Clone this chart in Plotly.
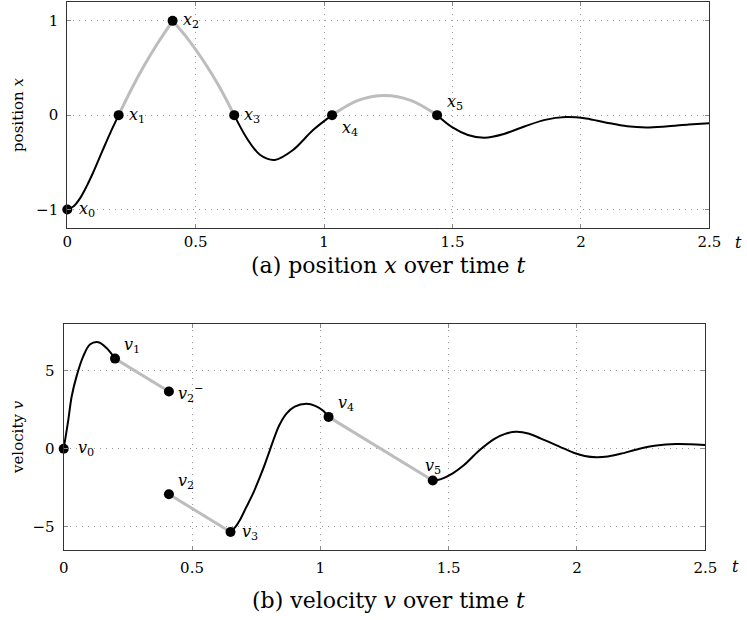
import plotly.graph_objects as go

W, H = 747, 620

# ---------- position x(t) ----------
pos_black_a_t = [0, 0.025, 0.05, 0.076, 0.102, 0.135, 0.167, 0.2]
pos_black_a_x = [-1, -0.966, -0.88, -0.75, -0.6, -0.39, -0.19, 0]
pos_gray_a_t = [0.2, 0.25, 0.3, 0.35, 0.41]
pos_gray_a_x = [0, 0.277, 0.528, 0.754, 1.0]
pos_gray_b_t = [0.41, 0.47, 0.53, 0.59, 0.65]
pos_gray_b_x = [1.0, 0.807, 0.577, 0.311, 0]
pos_black_b_t = [0.65, 0.698, 0.75, 0.808, 0.879, 0.957, 1.031]
pos_black_b_x = [0, -0.24, -0.42, -0.475, -0.37, -0.158, 0]
pos_gray_c_t = [1.031, 1.13, 1.235, 1.34, 1.44]
pos_gray_c_x = [0, 0.154, 0.209, 0.154, 0]
pos_black_c_t = [1.44, 1.5, 1.56, 1.625, 1.7, 1.78, 1.86, 1.94, 2.02, 2.1, 2.18, 2.255, 2.33, 2.42, 2.5]
pos_black_c_x = [0, -0.13, -0.21, -0.24, -0.2, -0.12, -0.05, -0.02, -0.035, -0.08, -0.118, -0.13, -0.12, -0.1, -0.085]
pos_pts_t = [0, 0.2, 0.41, 0.65, 1.031, 1.44]
pos_pts_x = [-1, 0, 1, 0, 0, 0]
pos_labels = ["<i>x</i><sub>0</sub>", "<i>x</i><sub>1</sub>", "<i>x</i><sub>2</sub>",
              "<i>x</i><sub>3</sub>", "<i>x</i><sub>4</sub>", "<i>x</i><sub>5</sub>"]

# ---------- velocity v(t) ----------
vel_black_a_t = [0, 0.018, 0.031, 0.05, 0.076, 0.102, 0.135, 0.167, 0.2]
vel_black_a_v = [0, 1.85, 3.35, 4.64, 5.92, 6.68, 6.83, 6.46, 5.78]
vel_gray_a_t = [0.2, 0.41]
vel_gray_a_v = [5.78, 3.67]
vel_gray_b_t = [0.41, 0.65]
vel_gray_b_v = [-2.92, -5.34]
vel_black_b_t = [0.65, 0.67, 0.686, 0.71, 0.738, 0.76, 0.777, 0.8, 0.816, 0.84, 0.868, 0.9, 0.946, 0.98, 1.01, 1.032]
vel_black_b_v = [-5.34, -5.0, -4.59, -3.8, -2.87, -2.0, -1.3, -0.25, 0.5, 1.5, 2.25, 2.7, 2.88, 2.75, 2.45, 2.04]
vel_gray_c_t = [1.032, 1.438]
vel_gray_c_v = [2.04, -2.04]
vel_black_c_t = [1.438, 1.47, 1.516, 1.56, 1.62, 1.68, 1.72, 1.763, 1.81, 1.86, 1.95, 1.99, 2.03, 2.075, 2.12, 2.17, 2.24, 2.31, 2.385, 2.44, 2.5]
vel_black_c_v = [-2.06, -1.95, -1.58, -1.05, -0.1, 0.65, 0.95, 1.08, 0.98, 0.65, 0.0, -0.28, -0.47, -0.55, -0.5, -0.33, -0.02, 0.2, 0.3, 0.29, 0.24]
vel_pts_t = [0, 0.2, 0.41, 0.41, 0.65, 1.032, 1.438]
vel_pts_v = [0, 5.78, 3.67, -2.92, -5.34, 2.04, -2.04]
vel_labels = ["<i>v</i><sub>0</sub>", "<i>v</i><sub>1</sub>", "<i>v</i><sub>2</sub><sup>−</sup>",
              "<i>v</i><sub>2</sub>", "<i>v</i><sub>3</sub>", "<i>v</i><sub>4</sub>", "<i>v</i><sub>5</sub>"]

x_ticks = [0, 0.5, 1, 1.5, 2, 2.5]
x_tick_text = ["0", "0.5", "1", "1.5", "2", "2.5"]
pos_ticks = [-1, 0, 1]
vel_ticks = [-5, 0, 5]

BLACK = "#000000"
GRAY = "#bdbdbd"
FONT = "DejaVu Serif"

fig = go.Figure()

def seg(t, y, color, width, xa, ya):
    fig.add_trace(go.Scatter(x=t, y=y, mode="lines",
                             line=dict(color=color, width=width, shape="spline", smoothing=0.9),
                             xaxis=xa, yaxis=ya, showlegend=False, hoverinfo="skip"))

# top
seg(pos_gray_a_t, pos_gray_a_x, GRAY, 3, "x", "y")
seg(pos_gray_b_t, pos_gray_b_x, GRAY, 3, "x", "y")
seg(pos_gray_c_t, pos_gray_c_x, GRAY, 3, "x", "y")
seg(pos_black_a_t, pos_black_a_x, BLACK, 2, "x", "y")
seg(pos_black_b_t, pos_black_b_x, BLACK, 2, "x", "y")
seg(pos_black_c_t, pos_black_c_x, BLACK, 2, "x", "y")
fig.add_trace(go.Scatter(x=pos_pts_t, y=pos_pts_x, mode="markers",
                         marker=dict(color=BLACK, size=10), xaxis="x", yaxis="y",
                         showlegend=False, cliponaxis=False, hoverinfo="skip"))

# bottom
seg(vel_gray_a_t, vel_gray_a_v, GRAY, 3, "x2", "y2")
seg(vel_gray_b_t, vel_gray_b_v, GRAY, 3, "x2", "y2")
seg(vel_gray_c_t, vel_gray_c_v, GRAY, 3, "x2", "y2")
seg(vel_black_a_t, vel_black_a_v, BLACK, 2, "x2", "y2")
seg(vel_black_b_t, vel_black_b_v, BLACK, 2, "x2", "y2")
seg(vel_black_c_t, vel_black_c_v, BLACK, 2, "x2", "y2")
fig.add_trace(go.Scatter(x=vel_pts_t, y=vel_pts_v, mode="markers",
                         marker=dict(color=BLACK, size=10), xaxis="x2", yaxis="y2",
                         showlegend=False, cliponaxis=False, hoverinfo="skip"))

axis_common = dict(showline=True, linecolor="#333333", linewidth=1.2, mirror="ticks",
                   ticks="inside", ticklen=4, tickcolor="#888888",
                   showgrid=True, gridcolor="#9a9a9a", griddash="1px,5px", gridwidth=1,
                   zeroline=False, tickfont=dict(family=FONT, size=15, color="#000"),
                   automargin=False)

fig.update_layout(
    width=W, height=H,
    margin=dict(l=0, r=0, t=0, b=0),
    paper_bgcolor="white", plot_bgcolor="white",
    xaxis=dict(domain=[67.3 / W, 709.3 / W], range=[0, 2.5], tickvals=x_ticks, ticktext=x_tick_text,
               anchor="y", ticklabelstandoff=0, **axis_common),
    yaxis=dict(domain=[1 - 228.3 / H, 1 - 2 / H], range=[-1.2, 1.2], tickvals=pos_ticks,
               anchor="x", ticklabelstandoff=5, **axis_common),
    xaxis2=dict(domain=[63.7 / W, 705.3 / W], range=[0, 2.5], tickvals=x_ticks, ticktext=x_tick_text,
                anchor="y2", ticklabelstandoff=4, **axis_common),
    yaxis2=dict(domain=[1 - 550 / H, 1 - 324 / H], range=[-6.5, 8.0], tickvals=vel_ticks,
                anchor="x2", ticklabelstandoff=5, **axis_common),
)

ann = []
lab_font = dict(family=FONT, size=16, color="#000")
pos_off = [(10, 0), (8, 0), (8, 0), (8, 0), (8, -13), (8, 13)]
for t, y, txt, (dx, dy) in zip(pos_pts_t, pos_pts_x, pos_labels, pos_off):
    ann.append(dict(x=t, y=y, xref="x", yref="y", text=txt, showarrow=False,
                    xanchor="left", yanchor="middle", xshift=dx, yshift=dy, font=lab_font))
vel_off = [(12, 0, "left"), (7, 13, "left"), (7, -2, "left"), (7, 13, "left"),
           (9, -1, "left"), (7, 13, "left"), (0, 14, "center")]
for t, y, txt, (dx, dy, xa) in zip(vel_pts_t, vel_pts_v, vel_labels, vel_off):
    ann.append(dict(x=t, y=y, xref="x2", yref="y2", text=txt, showarrow=False,
                    xanchor=xa, yanchor="middle", xshift=dx, yshift=dy, font=lab_font))

def paper_text(px, py, text, size, angle=0):
    ann.append(dict(x=px / W, y=1 - py / H, xref="paper", yref="paper", text=text,
                    xanchor="center", yanchor="middle", textangle=angle,
                    showarrow=False, font=dict(family=FONT, size=size, color="#000")))

# axis labels
paper_text(738, 242, "<i>t</i>", 16)
paper_text(735, 566, "<i>t</i>", 16)
paper_text(18, 115, "position <i>x</i>", 15, -90)
paper_text(18, 437, "velocity <i>v</i>", 15, -90)
# captions
paper_text(388, 266, "(a) position <i>x</i> over time <i>t</i>", 22)
paper_text(388, 600, "(b) velocity <i>v</i> over time <i>t</i>", 22)

fig.update_layout(annotations=ann)
fig.write_html("out.html", config={"displayModeBar": False},
               post_script="document.body.style.margin='0px';")
